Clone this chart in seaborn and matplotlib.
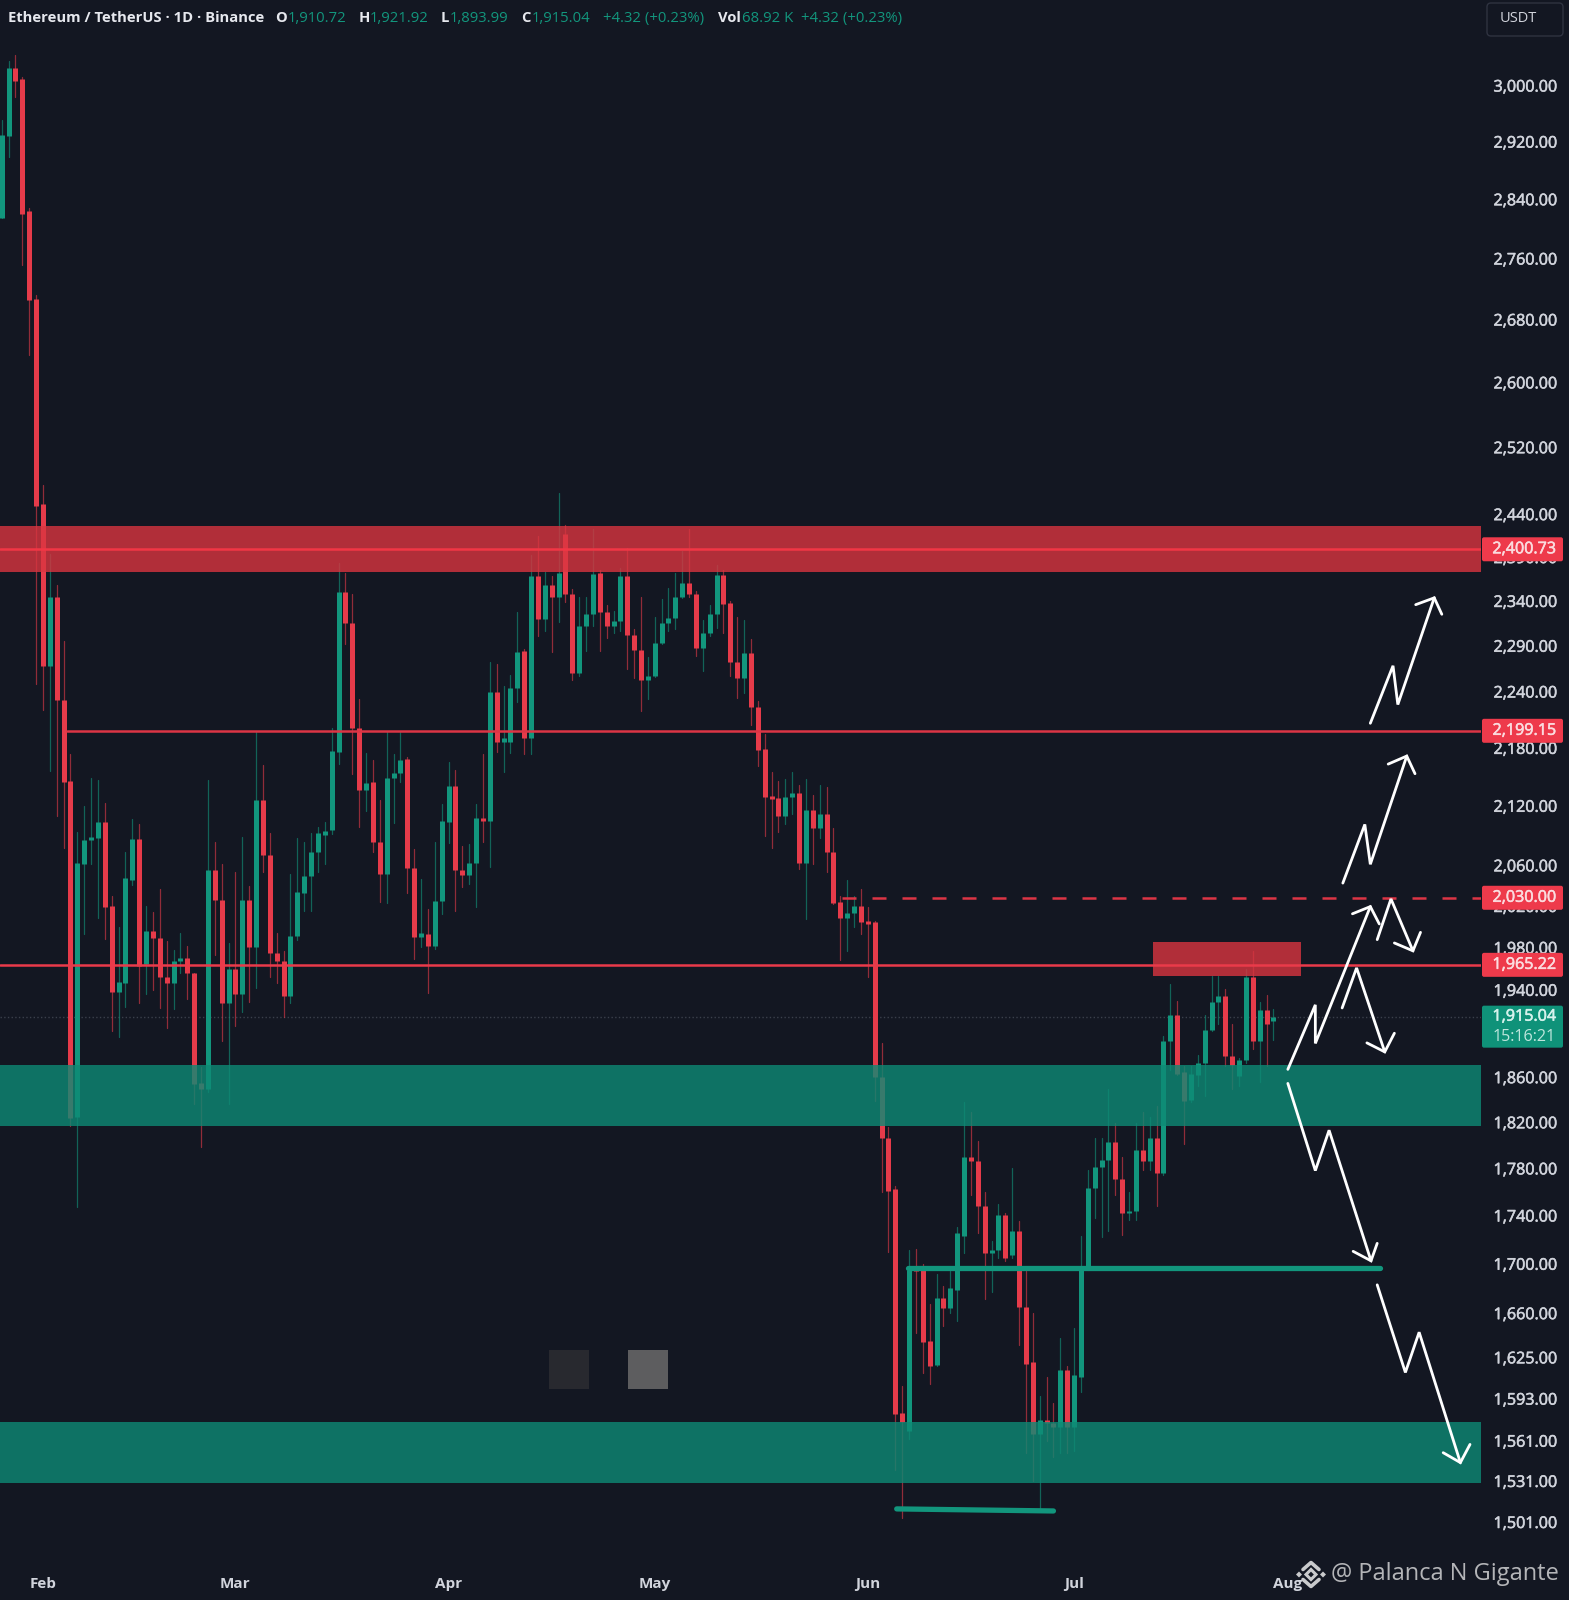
import numpy as np
import pandas as pd
import matplotlib
matplotlib.use("Agg")
import matplotlib.pyplot as plt
import matplotlib.patheffects as pe
import seaborn as sns
from matplotlib.lines import Line2D
from matplotlib.patches import FancyBboxPatch, Polygon
from matplotlib.transforms import IdentityTransform

# daily candles, day 0 is Feb 1
days = list(range(-6, 180))
opens = [2814,2928,3025,3010,2824,2706,2452,2268,2345,2231,
         2145,1825,2061,2085,2087,2103,2020,1938,1946,2045,
         2086,1964,1996,1989,1952,1946,1967,1970,1956,1855,
         1849,2055,2026,1928,1960,1936,2026,1980,2126,2070,
         1975,1967,1934,1991,2033,2049,2073,2090,2095,2176,
         2350,2315,2201,2136,2144,2083,2051,2149,2154,2168,
         2057,1990,1993,1981,2025,2103,2140,2055,2050,2062,
         2108,2104,2240,2186,2186,2244,2284,2190,2368,2320,
         2358,2345,2417,2348,2260,2312,2325,2372,2328,2312,
         2317,2368,2302,2285,2252,2257,2293,2315,2321,2345,
         2360,2348,2287,2304,2325,2370,2338,2272,2255,2282,
         2223,2179,2130,2128,2110,2129,2133,2062,2116,2097,
         2112,2073,2024,2008,2013,2020,2005,2004,1860,1806,
         1762,1582,1568,1696,1695,1638,1619,1672,1664,1679,
         1723,1790,1786,1748,1709,1711,1740,1707,1727,1665,
         1621,1566,1577,1574,1571,1615,1571,1610,1697,1763,
         1781,1787,1803,1771,1742,1744,1796,1786,1806,1776,
         1893,1917,1865,1840,1862,1873,1903,1929,1934,1879,
         1861,1875,1952,1893,1921,1910.72]
highs = [2950,3035,3045,3013,2828,2712,2474,2394,2358,2295,
         2174,2093,2120,2149,2146,2123,2030,2000,2073,2107,
         2101,2020,2014,2037,1986,1978,1994,1981,1956,1869,
         2146,2083,2061,1984,2053,2088,2040,2197,2162,2092,
         1994,1977,2051,2087,2083,2092,2098,2103,2201,2383,
         2372,2348,2232,2175,2167,2126,2197,2174,2197,2170,
         2076,2046,2017,2083,2122,2165,2157,2079,2081,2122,
         2174,2272,2270,2246,2258,2328,2286,2392,2414,2373,
         2368,2465,2427,2354,2344,2344,2423,2375,2335,2329,
         2377,2401,2309,2344,2278,2322,2342,2355,2372,2397,
         2423,2351,2319,2335,2381,2375,2340,2322,2319,2298,
         2230,2195,2155,2145,2147,2155,2141,2147,2131,2141,
         2139,2097,2030,2045,2030,2037,2019,2005,1891,1816,
         1765,1603,1711,1712,1700,1667,1692,1682,1694,1730,
         1838,1829,1804,1760,1719,1750,1742,1780,1735,1694,
         1660,1595,1610,1590,1640,1618,1648,1723,1779,1806,
         1806,1849,1819,1790,1760,1819,1829,1825,1834,1897,
         1945,1930,1870,1870,1880,1917,1953,1953,1941,1908,
         1877,1960,1977,1929,1935,1921.92]
lows = [2814,2898,2983,2752,2635,2248,2220,2156,2110,2077,
        1817,1747,1993,2061,2008,1988,1902,1896,1924,2041,
        1928,1936,1940,1923,1905,1922,1956,1931,1836,1798,
        1847,1973,1893,1836,1906,1919,1929,1942,2053,1952,
        1946,1915,1928,1987,2015,2015,2053,2061,2091,2163,
        2292,2153,2098,2115,2073,2024,2023,2102,2144,2033,
        1969,1980,1937,1979,2012,2082,2015,2039,2042,2019,
        2083,2058,2176,2155,2175,2229,2174,2174,2301,2306,
        2283,2316,2339,2252,2257,2284,2312,2284,2299,2304,
        2306,2265,2255,2219,2232,2256,2292,2306,2309,2343,
        2344,2279,2262,2301,2310,2304,2257,2233,2238,2204,
        2161,2089,2077,2093,2101,2112,2056,2007,2061,2087,
        2053,2022,1968,1977,2000,1993,1952,1839,1760,1710,
        1539,1504,1562,1644,1613,1604,1618,1650,1660,1654,
        1709,1757,1725,1671,1677,1705,1702,1705,1635,1552,
        1531,1510,1561,1549,1552,1552,1553,1598,1695,1738,
        1722,1727,1757,1724,1736,1736,1779,1779,1748,1774,
        1866,1862,1801,1838,1852,1843,1902,1908,1870,1849,
        1852,1873,1885,1856,1870,1893.99]
closes = [2929,3025,3007,2820,2705,2449,2268,2345,2231,2144,
          1824,2062,2085,2088,2103,2019,1938,1947,2047,2086,
          1962,1996,1989,1952,1946,1967,1970,1956,1854,1849,
          2055,2026,1928,1960,1936,2026,1980,2126,2070,1975,
          1967,1934,1991,2034,2049,2073,2092,2094,2177,2350,
          2315,2201,2136,2143,2083,2051,2149,2154,2167,2057,
          1990,1994,1981,2025,2104,2140,2055,2050,2062,2108,
          2104,2240,2186,2190,2244,2283,2190,2368,2320,2358,
          2345,2372,2348,2260,2312,2325,2371,2328,2312,2317,
          2368,2302,2285,2252,2257,2293,2315,2321,2345,2360,
          2348,2287,2304,2325,2370,2337,2272,2255,2282,2223,
          2178,2129,2127,2110,2129,2133,2062,2116,2097,2112,
          2073,2023,2008,2013,2020,2004,2003,1860,1806,1761,
          1581,1575,1695,1694,1637,1618,1672,1664,1680,1725,
          1790,1786,1748,1709,1711,1740,1705,1727,1665,1620,
          1566,1577,1574,1571,1615,1571,1611,1697,1763,1781,
          1787,1803,1771,1742,1744,1796,1786,1806,1776,1893,
          1917,1863,1839,1863,1873,1903,1929,1934,1879,1871,
          1875,1952,1893,1921,1908,1915.04]

# y axis labels
price_ticks = [3000, 2920, 2840, 2760, 2680, 2600, 2520, 2440, 2390, 2340, 2290,
               2240, 2180, 2120, 2060, 2020, 1980, 1940, 1860, 1820, 1780, 1740,
               1700, 1660, 1625, 1593, 1561, 1531, 1501]
month_days = [0, 28, 59, 89, 120, 150, 181]
month_names = ["Feb", "Mar", "Apr", "May", "Jun", "Jul", "Aug"]

# drawn levels and zones
red_zone = (2373, 2426)
green_zone_top = (1817, 1871)
green_zone_low = (1529.5, 1575.2)
small_box_days = (161.5, 183)
small_box_prices = (1953.3, 1985.5)
# the drawn lines sit a touch under the price printed on their tags
levels = [(2399, "2,400.73"), (2198, "2,199.15"), (2028, "2,030.00"), (1963.5, "1,965.22")]
level_main, level_2199, level_2030, level_1965 = [lv[0] for lv in levels]
last_price = 1915.04

# hand drawn arrows: day, price
arrow_paths = [
    [(193.1, 2206), (196.4, 2268), (197.1, 2226), (202.4, 2343.5)],
    [(189.1, 2042.4), (192.3, 2101), (193.1, 2061), (198.4, 2171.4)],
    [(181.1, 1867), (185.1, 1926), (185.1, 1890.5), (193.1, 2019.4)],
    [(194.1, 1987.5), (196.1, 2026.9), (199.3, 1976.8)],
    [(189.0, 1923.1), (191.1, 1960.6), (195.2, 1882.8)],
    [(181.1, 1854.4), (185.1, 1778.1), (187.1, 1813), (193.2, 1702.4)],
    [(194.1, 1682.8), (198.2, 1613.2), (200.2, 1644.8), (206.2, 1544.6)],
]
arrow_heads = [
    [(199.7, 2335.8), (203.5, 2325)],
    [(195.7, 2163), (199.6, 2153)],
    [(190.5, 2012.4), (194.4, 2002.6)],
    [(196.6, 1984.3), (200.4, 1994.5)],
    [(192.6, 1891), (196.6, 1899.8)],
    [(190.6, 1710.2), (194.1, 1716.8)],
    [(203.7, 1552), (207.6, 1558.2)],
]

BG = "#131722"
GREEN = "#12967d"
RED = "#e63b4a"
TICK_COLOR = "#d1d4dc"

sns.set_style("dark", {"axes.facecolor": BG, "figure.facecolor": BG})
plt.rcParams["font.family"] = ["Open Sans", "DejaVu Sans"]

fig = plt.figure(figsize=(15.69, 16), dpi=100)
ax = fig.add_axes([0, 35 / 1600, 1481 / 1569, 1565 / 1600])

# one row per candle end, seaborn draws a line per candle
candles = pd.DataFrame({"day": days, "open": opens, "high": highs, "low": lows, "close": closes})
candles["side"] = np.where(candles["close"] >= candles["open"], "up", "down")
palette = {"up": GREEN, "down": RED}

wicks = candles.melt(id_vars=["day", "side"], value_vars=["high", "low"], value_name="price")
bodies = candles.melt(id_vars=["day", "side"], value_vars=["open", "close"], value_name="price")

sns.lineplot(data=wicks, x="day", y="price", hue="side", units="day", estimator=None,
             palette=palette, linewidth=0.9, alpha=0.6, legend=False, ax=ax, zorder=2)
sns.lineplot(data=bodies, x="day", y="price", hue="side", units="day", estimator=None,
             palette=palette, linewidth=3.6, legend=False, ax=ax, zorder=2,
             solid_capstyle="butt")

ax.set_yscale("log")
ax.set_xlim(-6.25, 209.2)
ax.set_ylim(1470.2, 3126.3)

# zones sit over the candles
ax.axhspan(*red_zone, color="#da3540", alpha=0.8, lw=0, zorder=3)
ax.axhspan(*green_zone_top, color="#0d8a75", alpha=0.8, lw=0, zorder=3)
ax.axhspan(*green_zone_low, color="#0d8a75", alpha=0.8, lw=0, zorder=3)
ax.fill_between(small_box_days, *small_box_prices, color="#da3540", alpha=0.8, lw=0, zorder=3)

# leftovers of a removed watermark
ax.fill_between((73.6, 79.4), 1600, 1631, color="#28292f", lw=0, zorder=1)
ax.fill_between((85.1, 90.9), 1600, 1631, color="#5d5d5f", lw=0, zorder=1)

ax.axhline(last_price, color="#3b404c", lw=1, ls=":", zorder=1.5)
ax.axhline(level_main, color="#f23645", lw=1.8, zorder=4)
ax.axhline(level_1965, color="#ea3a4a", lw=1.8, zorder=4)
ax.plot([3.5, 209.2], [level_2199, level_2199], color="#dc3545", lw=1.8, zorder=4)
ax.plot([116.2, 209.2], [level_2030, level_2030], color="#dc3545", lw=1.8,
        dashes=(5.6, 6.4), zorder=4)
ax.plot([125.8, 194.5], [1696.6, 1696.6], color=GREEN, lw=3.8, solid_capstyle="round", zorder=4)
ax.plot([124.2, 147.0], [1510.5, 1509.0], color=GREEN, lw=3.8, solid_capstyle="round", zorder=4)

for path, head in zip(arrow_paths, arrow_heads):
    px, py = zip(*path)
    ax.plot(px, py, color="white", lw=2.0, solid_joinstyle="miter", zorder=5)
    ax.plot([head[0][0], path[-1][0], head[1][0]], [head[0][1], path[-1][1], head[1][1]],
            color="white", lw=2.0, solid_joinstyle="miter", zorder=5)

ax.yaxis.tick_right()
ax.set_yticks(price_ticks)
ax.set_yticklabels([f"{p:,.2f}" for p in price_ticks])
ax.minorticks_off()
ax.set_xticks(month_days)
ax.set_xticklabels(month_names, fontweight="bold")
ax.tick_params(axis="y", length=0, pad=9, labelsize=11.6, labelcolor=TICK_COLOR, which="both")
ax.tick_params(axis="x", length=0, pad=8.5, labelsize=11, labelcolor=TICK_COLOR)
for label in ax.get_yticklabels():
    label.set_path_effects([pe.withStroke(linewidth=0.4, foreground=TICK_COLOR)])
ax.set_xlabel("")
ax.set_ylabel("")
ax.grid(False)
for side in ax.spines.values():
    side.set_visible(False)

heavy = [pe.withStroke(linewidth=0.4, foreground="#fbdcdf")]


def price_tag(price, color, height=24):
    # tag on the price scale, pixel sizes come from the reference
    y = ax.transData.transform((0, price))[1]
    box = FancyBboxPatch((1482, y - height / 2), 81, height, transform=IdentityTransform(),
                         boxstyle="round,pad=0,rounding_size=2", fc=color, ec="none", zorder=4)
    fig.add_artist(box)
    return y


for price, text in levels:
    y = price_tag(price, "#ee3a4b")
    fig.text(1524 / 1569, y / 1600, text, color="#fbdcdf", fontsize=11.6, ha="center",
             va="center", zorder=6, path_effects=heavy)

y = ax.transData.transform((0, last_price))[1]
box = FancyBboxPatch((1482, y - 31), 81, 42, transform=IdentityTransform(),
                     boxstyle="round,pad=0,rounding_size=2", fc="#0f9279", ec="none", zorder=4)
fig.add_artist(box)
fig.text(1524 / 1569, y / 1600, "1,915.04", color="#d6f2ec", fontsize=11.6, ha="center",
         va="center", zorder=6, path_effects=[pe.withStroke(linewidth=0.4, foreground="#d6f2ec")])
fig.text(1524 / 1569, (y - 20) / 1600, "15:16:21", color="#bfe6dd", fontsize=11.6, ha="center",
         va="center", zorder=6)

# header row
header = [(8, "Ethereum / TetherUS · 1D · Binance", "#e6e8ee"), (275, "O", "#e6e8ee"),
          (288, "1,910.72", GREEN), (359, "H", "#e6e8ee"), (370, "1,921.92", GREEN),
          (441, "L", "#e6e8ee"), (450, "1,893.99", GREEN), (521, "C", "#e6e8ee"),
          (532, "1,915.04", GREEN), (603, "+4.32 (+0.23%)", GREEN), (718, "Vol", "#e6e8ee"),
          (742, "68.92 K", GREEN), (801, "+4.32 (+0.23%)", GREEN)]
for x, text, color in header:
    is_value = color == GREEN
    fig.text(x / 1569, 1 - 18.5 / 1600, text, color=color, va="center", zorder=6,
             fontsize=10.7 if is_value else 10.6, fontweight="normal" if is_value else "bold")

fig.add_artist(FancyBboxPatch((1487, 1600 - 36), 76, 33, transform=IdentityTransform(),
                              boxstyle="round,pad=0,rounding_size=4", fc=BG, ec="#2f3340",
                              lw=1, zorder=4))
fig.text(1518 / 1569, 1 - 18 / 1600, "USDT", color=TICK_COLOR, fontsize=10.5, ha="center",
         va="center", zorder=6)

# watermark with the exchange logo
fig.text(1331 / 1569, 1 - 1574 / 1600, "@ Palanca N Gigante", color="#b4b5b8", fontsize=17,
         va="center", zorder=6)
logo_x, logo_y = 1311, 1600 - 1574.5
logo_gray = "#c9cacc"
for sign in (1, -1):
    chevron = [(logo_x - 8, logo_y + sign * 5), (logo_x, logo_y + sign * 12), (logo_x + 8, logo_y + sign * 5)]
    xs, ys = zip(*chevron)
    fig.add_artist(Line2D(xs, ys, color=logo_gray, lw=2.6, transform=IdentityTransform(), zorder=6))
    cx = logo_x + sign * 12
    fig.add_artist(Polygon([(cx - 3, logo_y), (cx, logo_y + 3), (cx + 3, logo_y), (cx, logo_y - 3)],
                           fc=logo_gray, ec="none", transform=IdentityTransform(), zorder=6))
fig.add_artist(Polygon([(logo_x - 5, logo_y), (logo_x, logo_y + 5), (logo_x + 5, logo_y), (logo_x, logo_y - 5)],
                       fc="none", ec=logo_gray, lw=2.2, transform=IdentityTransform(), zorder=6))

fig.savefig("out.png", dpi=100, facecolor=BG)
